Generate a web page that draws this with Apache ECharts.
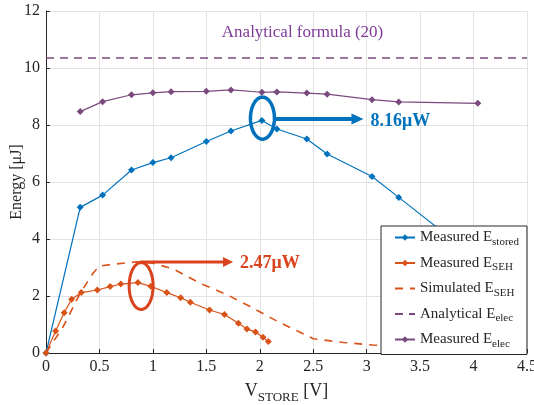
<!DOCTYPE html>
<html>
<head>
<meta charset="utf-8">
<script src="https://cdn.jsdelivr.net/npm/echarts@6/dist/echarts.min.js"></script>
<style>
  html, body { margin: 0; padding: 0; background: #fff; }
  #chart { width: 534px; height: 405px; }
</style>
</head>
<body>
<div id="chart"></div>
<script>
// data
var storedX = [0, 0.32, 0.53, 0.80, 1.0, 1.17, 1.50, 1.73, 2.02, 2.16, 2.44, 2.63, 3.05, 3.30, 4.04];
var storedY = [0, 5.11, 5.54, 6.42, 6.68, 6.85, 7.42, 7.79, 8.16, 7.86, 7.51, 6.98, 6.19, 5.46, 3.28];

var sehX = [0, 0.09, 0.17, 0.24, 0.33, 0.48, 0.60, 0.70, 0.86, 0.98, 1.13, 1.26, 1.35, 1.53, 1.67, 1.80, 1.88, 1.96, 2.03, 2.08];
var sehY = [0, 0.77, 1.41, 1.89, 2.12, 2.21, 2.33, 2.42, 2.47, 2.34, 2.12, 1.94, 1.78, 1.51, 1.35, 1.04, 0.84, 0.74, 0.55, 0.40];

var simX = [0, 0.16, 0.32, 0.44, 0.5, 0.6, 0.85, 1.0, 1.19, 1.44, 1.69, 1.91, 2.17, 2.41, 2.5, 2.78, 3.06, 3.1];
var simY = [0, 0.92, 2.10, 2.80, 3.05, 3.10, 3.20, 3.15, 2.95, 2.45, 2.05, 1.63, 1.10, 0.67, 0.50, 0.37, 0.28, 0.27];

var analyticX = [0, 4.5];
var analyticY = [10.35, 10.35];

var elecX = [0.32, 0.53, 0.80, 1.0, 1.17, 1.50, 1.73, 2.02, 2.16, 2.44, 2.63, 3.05, 3.30, 4.04];
var elecY = [8.47, 8.82, 9.06, 9.13, 9.17, 9.18, 9.23, 9.15, 9.16, 9.12, 9.08, 8.89, 8.81, 8.76];

var BLUE = '#0072BD', ORANGE = '#D95319', PURPLE = '#7A4A7E', RED = '#D9421C';
var FONT = 'Liberation Serif';

function pairs(xs, ys) {
    return xs.map(function (x, i) { return [x, ys[i]]; });
}

var legendLabels = {
    'Measured Estored': '{m|Measured E}{s|stored}',
    'Measured ESEH': '{m|Measured E}{s|SEH}',
    'Simulated ESEH': '{m|Simulated E}{s|SEH}',
    'Analytical Eelec': '{m|Analytical E}{s|elec}',
    'Measured Eelec': '{m|Measured E}{s|elec}'
};

var chart = echarts.init(document.getElementById('chart'));

var option = {
    animation: false,
    backgroundColor: '#fff',
    textStyle: { fontFamily: FONT },
    grid: { left: 46, right: 7, top: 11, bottom: 52, containLabel: false, outerBoundsMode: 'none' },
    xAxis: {
        type: 'value',
        min: 0, max: 4.5, interval: 0.5,
        name: '{m|V}{s|STORE}{m| [V]}',
        nameLocation: 'middle',
        nameGap: 26,
        nameTextStyle: {
            rich: {
                m: { fontSize: 18, fontFamily: FONT, color: '#262626' },
                s: { fontSize: 13, fontFamily: FONT, color: '#262626', padding: [12, 0, 0, 0] }
            }
        },
        axisLine: { lineStyle: { color: '#262626', width: 1 } },
        axisTick: { inside: true, length: 4, lineStyle: { color: '#262626' } },
        axisLabel: { fontSize: 16, color: '#262626', fontFamily: FONT, margin: 6 },
        splitLine: { show: true, lineStyle: { color: '#e3e3e3', width: 1 } }
    },
    yAxis: {
        type: 'value',
        min: 0, max: 12, interval: 2,
        name: 'Energy [μJ]',
        nameLocation: 'middle',
        nameGap: 21,
        nameMoveOverlap: false,
        nameTextStyle: { fontSize: 16, color: '#262626', fontFamily: FONT },
        axisLine: { show: true, lineStyle: { color: '#262626', width: 1 } },
        axisTick: { show: true, inside: true, length: 4, lineStyle: { color: '#262626' } },
        axisLabel: { fontSize: 16, color: '#262626', fontFamily: FONT, margin: 6 },
        splitLine: { show: true, lineStyle: { color: '#e3e3e3', width: 1 } }
    },
    legend: {
        orient: 'vertical',
        left: 381, top: 226,
        padding: [4, 8, 5, 13],
        itemGap: 8,
        itemWidth: 20, itemHeight: 8,
        backgroundColor: '#fff',
        borderColor: '#262626', borderWidth: 1, borderRadius: 0,
        formatter: function (name) { return legendLabels[name]; },
        textStyle: {
            rich: {
                m: { fontSize: 15, fontFamily: FONT, color: '#262626', lineHeight: 17 },
                s: { fontSize: 11, fontFamily: FONT, color: '#262626', padding: [9, 0, 0, 0] }
            }
        },
        data: [
            'Measured Estored',
            'Measured ESEH',
            { name: 'Simulated ESEH', itemStyle: { opacity: 0 } },
            { name: 'Analytical Eelec', itemStyle: { opacity: 0 } },
            'Measured Eelec'
        ]
    },
    series: [
        {
            name: 'Measured Estored', type: 'line',
            data: pairs(storedX, storedY),
            symbol: 'diamond', symbolSize: 7,
            lineStyle: { color: BLUE, width: 1.2 },
            itemStyle: { color: BLUE }
        },
        {
            name: 'Measured ESEH', type: 'line',
            data: pairs(sehX, sehY),
            symbol: 'diamond', symbolSize: 7,
            lineStyle: { color: ORANGE, width: 1.2 },
            itemStyle: { color: ORANGE }
        },
        {
            name: 'Simulated ESEH', type: 'line',
            data: pairs(simX, simY),
            symbol: 'none',
            lineStyle: { color: ORANGE, width: 1.6, type: [8, 7] },
            itemStyle: { color: ORANGE }
        },
        {
            name: 'Analytical Eelec', type: 'line',
            data: pairs(analyticX, analyticY),
            symbol: 'none',
            lineStyle: { color: PURPLE, width: 1.6, type: [8, 6] },
            itemStyle: { color: PURPLE }
        },
        {
            name: 'Measured Eelec', type: 'line',
            data: pairs(elecX, elecY),
            symbol: 'diamond', symbolSize: 7,
            lineStyle: { color: PURPLE, width: 1.2 },
            itemStyle: { color: PURPLE }
        }
    ]
};

chart.setOption(option);

// annotations (ellipses, arrows, labels) placed in data coordinates
function px(x, y) { return chart.convertToPixel({ gridIndex: 0 }, [x, y]); }

function ellipsePoints(c, rx, ry) {
    var pts = [];
    for (var i = 0; i < 48; i++) {
        var a = i / 48 * Math.PI * 2;
        pts.push([c[0] + rx * Math.cos(a), c[1] + ry * Math.sin(a)]);
    }
    return pts;
}

function arrow(from, to, color, width, headLen, headHalf) {
    return [
        { type: 'line', z: 10, shape: { x1: from[0], y1: from[1], x2: to[0] - headLen + 1, y2: to[1] },
          style: { stroke: color, lineWidth: width } },
        { type: 'polygon', z: 10, shape: { points: [[to[0], to[1]], [to[0] - headLen, to[1] - headHalf], [to[0] - headLen, to[1] + headHalf]] },
          style: { fill: color } }
    ];
}

var blueC = px(2.025, 8.24);
var redC = px(0.89, 2.35);
var blueFrom = px(2.14, 8.21), blueTo = px(2.97, 8.21);
var redFrom = px(0.88, 3.19), redTo = px(1.75, 3.19);
var analyticLabel = px(2.40, 11.23);

var graphics = [
    { type: 'polygon', z: 10, shape: { points: ellipsePoints(blueC, 12, 21) },
      style: { fill: 'none', stroke: BLUE, lineWidth: 3.5 } },
    { type: 'polygon', z: 10, shape: { points: ellipsePoints(redC, 12, 23.5) },
      style: { fill: 'none', stroke: RED, lineWidth: 3 } },
    { type: 'text', z: 10, x: blueTo[0] + 7, y: blueTo[1] + 2,
      style: { text: '8.16μW', fill: BLUE, font: 'bold 18px "Liberation Serif"', verticalAlign: 'middle' } },
    { type: 'text', z: 10, x: redTo[0] + 7, y: redTo[1] + 1,
      style: { text: '2.47μW', fill: RED, font: 'bold 18px "Liberation Serif"', verticalAlign: 'middle' } },
    { type: 'text', z: 10, x: analyticLabel[0], y: analyticLabel[1],
      style: { text: 'Analytical formula (20)', fill: '#7E3A98', font: '17px "Liberation Serif"', align: 'center', verticalAlign: 'middle' } }
].concat(arrow(blueFrom, blueTo, BLUE, 4, 12, 5.5))
 .concat(arrow(redFrom, redTo, RED, 3, 10, 5));

chart.setOption({ graphic: graphics });
</script>
</body>
</html>
